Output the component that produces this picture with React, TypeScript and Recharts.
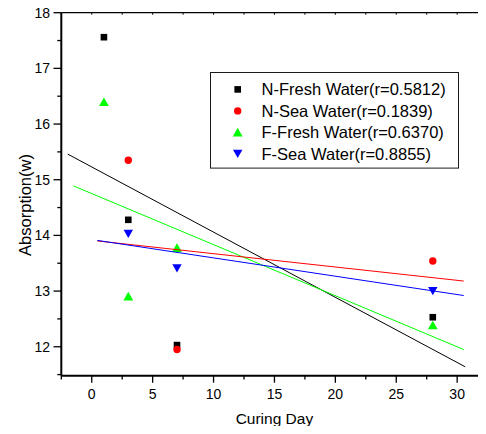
import React from 'react';
import { ScatterChart, Scatter, XAxis, YAxis, Legend } from 'recharts';

const FONT = '"Liberation Sans", Arial, Helvetica, sans-serif';

// ---- data ----
const nFreshDays = [1, 3, 7, 28];
const nFreshVals = [17.56, 14.28, 12.03, 12.53];
const nSeaDays = [3, 7, 28];
const nSeaVals = [15.35, 11.95, 13.54];
const fFreshDays = [1, 3, 7, 28];
const fFreshVals = [16.4, 12.91, 13.78, 12.39];
const fSeaDays = [3, 7, 28];
const fSeaVals = [14.03, 13.41, 13.0];

// linear-fit line endpoints (x, y)
const fitNFreshX = [-1.97, 30.66];
const fitNFreshY = [15.46, 11.64];
const fitNSeaX = [0.46, 30.54];
const fitNSeaY = [13.9, 13.18];
const fitFFreshX = [-1.51, 30.54];
const fitFFreshY = [14.89, 11.95];
const fitFSeaX = [0.46, 30.54];
const fitFSeaY = [13.91, 12.92];

const legendLabels = [
  'N-Fresh Water(r=0.5812)',
  'N-Sea Water(r=0.1839)',
  'F-Fresh Water(r=0.6370)',
  'F-Sea Water(r=0.8855)',
];

const xTicks = [-2.5, 0, 2.5, 5, 7.5, 10, 12.5, 15, 17.5, 20, 22.5, 25, 27.5, 30, 32.5];
const xLabelTicks = [0, 5, 10, 15, 20, 25, 30];
const yTicks = [11.5, 12, 12.5, 13, 13.5, 14, 14.5, 15, 15.5, 16, 16.5, 17, 17.5, 18];
const yLabelTicks = [12, 13, 14, 15, 16, 17, 18];

const xDomain = [-2.5, 32.5];
const yDomain = [11.48, 18];

const xTitle = 'Curing Day';
const yTitle = 'Absorption(w)';

const toPoints = (xs: number[], ys: number[]) => xs.map((x, i) => ({ x, y: ys[i] }));

// ---- marker shapes ----
const drawSquare = (cx: number, cy: number, color = '#000') => (
  <rect x={cx - 3.3} y={cy - 3.3} width={6.6} height={6.6} fill={color} />
);
const drawCircle = (cx: number, cy: number, color = '#ff0000') => (
  <circle cx={cx} cy={cy} r={3.7} fill={color} />
);
const drawUp = (cx: number, cy: number, color = '#00ff00') => (
  <polygon
    points={`${cx},${cy - 4.4} ${cx - 4.9},${cy + 4.3} ${cx + 4.9},${cy + 4.3}`}
    fill={color}
  />
);
const drawDown = (cx: number, cy: number, color = '#0000ff') => (
  <polygon
    points={`${cx - 4.7},${cy - 4} ${cx + 4.7},${cy - 4} ${cx},${cy + 4.2}`}
    fill={color}
  />
);

const colors = ['#000000', '#ff0000', '#00ff00', '#0000ff'];
const drawers = [drawSquare, drawCircle, drawUp, drawDown];

// ---- ticks ----
const BottomTick = (props: any) => {
  const { x, y, payload } = props;
  const v = payload.value;
  const major = xLabelTicks.includes(v);
  return (
    <g>
      <line x1={x} x2={x} y1={y} y2={y + (major ? 7 : 3.7)} stroke="#000" strokeWidth={1.3} />
      {major && (
        <text x={x} y={y + 23.3} textAnchor="middle" fontFamily={FONT} fontSize={14} fill="#000">
          {v}
        </text>
      )}
    </g>
  );
};

const TopTick = (props: any) => {
  const { x, y } = props;
  return <line x1={x} x2={x} y1={y} y2={y + 2} stroke="#000" strokeWidth={1} />;
};

const LeftTick = (props: any) => {
  const { x, y, payload } = props;
  const v = payload.value;
  const major = yLabelTicks.includes(v);
  return (
    <g>
      <line x1={x - (major ? 7.8 : 4)} x2={x} y1={y} y2={y} stroke="#000" strokeWidth={1.3} />
      {major && (
        <text x={x - 11.3} y={y + 5.1} textAnchor="end" fontFamily={FONT} fontSize={14} fill="#000">
          {v}
        </text>
      )}
    </g>
  );
};

// ---- legend ----
const LegendBox = () => {
  const rowCenters = [17.4, 38.9, 60.2, 81.7];
  return (
    <svg width={250} height={98} style={{ display: 'block', overflow: 'visible' }}>
      <rect x={0.5} y={0.5} width={248} height={95.6} fill="none" stroke="#1a1a1a" strokeWidth={1} />
      {legendLabels.map((label, i) => (
        <g key={label}>
          {drawers[i](27.7, rowCenters[i], colors[i])}
          <text
            x={51.5}
            y={rowCenters[i] + 5.9}
            fontFamily={FONT}
            fontSize={16.5}
            fill="#000"
          >
            {label}
          </text>
        </g>
      ))}
    </svg>
  );
};

const hidden = () => <g />;

export default function App() {
  const nFresh = toPoints(nFreshDays, nFreshVals);
  const nSea = toPoints(nSeaDays, nSeaVals);
  const fFresh = toPoints(fFreshDays, fFreshVals);
  const fSea = toPoints(fSeaDays, fSeaVals);

  return (
    <div
      style={{
        margin: -8,
        width: 486,
        height: 434,
        overflow: 'hidden',
        position: 'relative',
        background: '#fff',
      }}
    >
      <ScatterChart
        width={500}
        height={434}
        margin={{ top: 0, right: 12.4, bottom: 0, left: 0 }}
        style={{ display: 'block' }}
      >
        <XAxis
          type="number"
          dataKey="x"
          domain={xDomain}
          ticks={xTicks}
          interval={0}
          allowDataOverflow
          height={58.3}
          tickSize={0}
          tickMargin={0}
          tickLine={false}
          axisLine={{ stroke: '#000', strokeWidth: 2 }}
          tick={BottomTick}
          label={() => (
            <text x={274.4} y={424} textAnchor="middle" fontFamily={FONT} fontSize={15.5} fill="#000">
              {xTitle}
            </text>
          )}
        />
        <XAxis
          xAxisId="top"
          orientation="top"
          type="number"
          dataKey="x"
          domain={xDomain}
          ticks={xTicks}
          interval={0}
          allowDataOverflow
          height={12.7}
          tickSize={0}
          tickMargin={0}
          tickLine={false}
          axisLine={{ stroke: '#000', strokeWidth: 1.3 }}
          tick={TopTick}
        />
        <YAxis
          type="number"
          dataKey="y"
          domain={yDomain}
          ticks={yTicks}
          interval={0}
          allowDataOverflow
          width={61.3}
          tickSize={0}
          tickMargin={0}
          tickLine={false}
          axisLine={{ stroke: '#000', strokeWidth: 2 }}
          tick={LeftTick}
          label={() => (
            <text
              x={31}
              y={205}
              textAnchor="middle"
              fontFamily={FONT}
              fontSize={16.5}
              fill="#000"
              transform="rotate(-90, 31, 205)"
            >
              {yTitle}
            </text>
          )}
        />
        <Legend
          layout="vertical"
          verticalAlign="middle"
          align="center"
          wrapperStyle={{ position: 'absolute', left: 210, top: 71.7, width: 250, height: 98, margin: 0, padding: 0 }}
          content={() => <LegendBox />}
        />

        <Scatter name={legendLabels[0]} data={nFresh} isAnimationActive={false}
          shape={(p: any) => drawSquare(p.cx, p.cy, colors[0])} />
        <Scatter name={legendLabels[1]} data={nSea} isAnimationActive={false}
          shape={(p: any) => drawCircle(p.cx, p.cy, colors[1])} />
        <Scatter name={legendLabels[2]} data={fFresh} isAnimationActive={false}
          shape={(p: any) => drawUp(p.cx, p.cy, colors[2])} />
        <Scatter name={legendLabels[3]} data={fSea} isAnimationActive={false}
          shape={(p: any) => drawDown(p.cx, p.cy, colors[3])} />

        <Scatter data={toPoints(fitNFreshX, fitNFreshY)} isAnimationActive={false}
          line={{ stroke: colors[0], strokeWidth: 1 }} shape={hidden} legendType="none" />
        <Scatter data={toPoints(fitFFreshX, fitFFreshY)} isAnimationActive={false}
          line={{ stroke: colors[2], strokeWidth: 1 }} shape={hidden} legendType="none" />
        <Scatter data={toPoints(fitNSeaX, fitNSeaY)} isAnimationActive={false}
          line={{ stroke: colors[1], strokeWidth: 1 }} shape={hidden} legendType="none" />
        <Scatter data={toPoints(fitFSeaX, fitFSeaY)} isAnimationActive={false}
          line={{ stroke: colors[3], strokeWidth: 1 }} shape={hidden} legendType="none" />
      </ScatterChart>
    </div>
  );
}
